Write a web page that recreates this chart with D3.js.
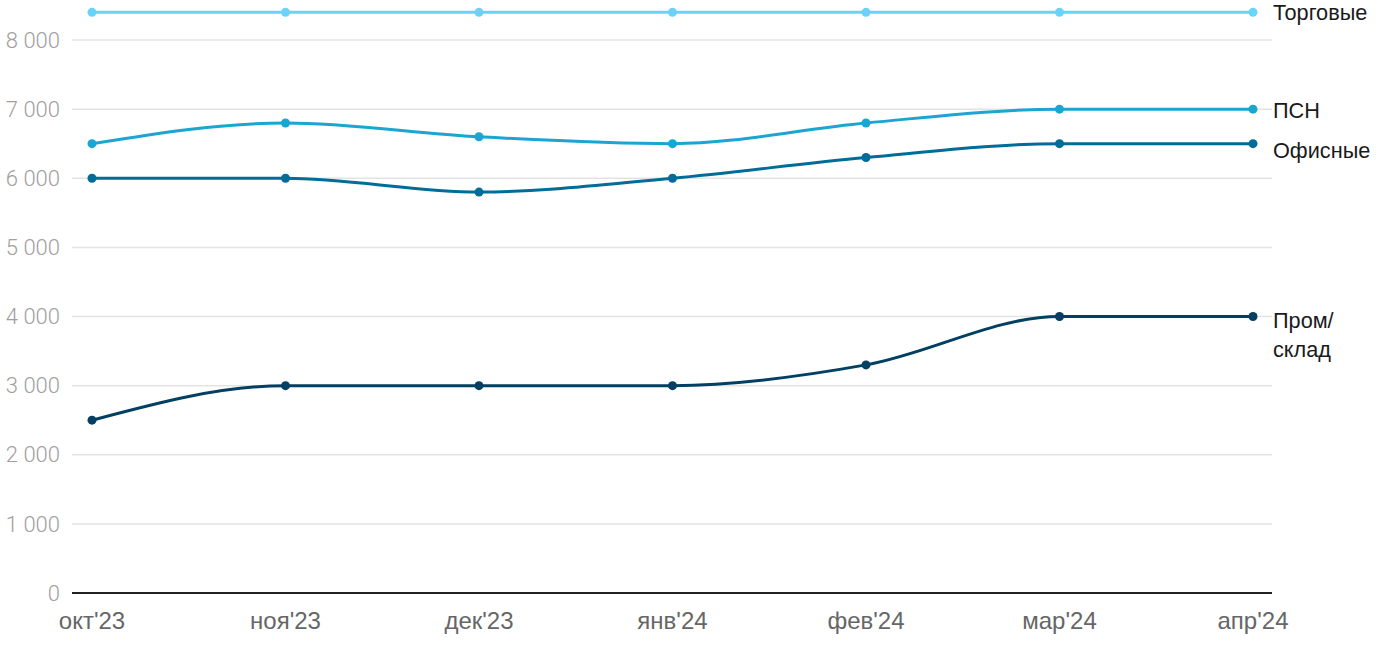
<!DOCTYPE html>
<html><head><meta charset="utf-8">
<script src="https://cdn.jsdelivr.net/npm/d3@7"></script>
<style>body{margin:0;background:#fff;}</style>
</head><body><svg id="c" width="1400" height="650"></svg>
<script>
const categories = ["окт'23","ноя'23","дек'23","янв'24","фев'24","мар'24","апр'24"];
const seriesNames = ["Торговые","ПСН","Офисные","Пром/склад"];
const torgovye = [8400,8400,8400,8400,8400,8400,8400];
const psn = [6500,6800,6600,6500,6800,7000,7000];
const ofisnye = [6000,6000,5800,6000,6300,6500,6500];
const prom = [2500,3000,3000,3000,3300,4000,4000];
const yTicks = [0,1000,2000,3000,4000,5000,6000,7000,8000];
const colors = ["#66d4fb","#1ba5d1","#006d99","#013f63"];
const labelLines = [["Торговые"],["ПСН"],["Офисные"],["Пром/","склад"]];
const labelNudge = [0,1,7,4];

const svg = d3.select("#c");
const x = d3.scalePoint().domain(categories).range([92,1253]);
const y = d3.scaleLinear().domain([0,8000]).range([593,40]);
const fmt = v => d3.format(",")(v).replace(/,/g," ");

const grid = svg.append("g");
yTicks.forEach(t=>{
  if(t>0) grid.append("line").attr("x1",72).attr("x2",1272).attr("y1",y(t)).attr("y2",y(t)).attr("stroke","#e3e3e3").attr("stroke-width",1.5);
  grid.append("text").attr("x",60).attr("y",y(t)).attr("dy","0.35em").attr("text-anchor","end")
    .attr("font-family","Roboto, sans-serif").attr("font-weight",300)
    .attr("fill","#a0a0a0").attr("font-size",22).text(fmt(t));
});
svg.append("line").attr("x1",72).attr("x2",1272).attr("y1",y(0)).attr("y2",y(0)).attr("stroke","#222").attr("stroke-width",2);
categories.forEach(c=>{
  svg.append("text").attr("x",x(c)).attr("y",629).attr("text-anchor","middle")
    .attr("font-family","'Liberation Sans', Arial, sans-serif")
    .attr("fill","#666").attr("font-size",24).text(c);
});

const data = [torgovye, psn, ofisnye, prom];
const line = d3.line().x((d,i)=>x(categories[i])).y(d=>y(d)).curve(d3.curveMonotoneX);
[3,2,1,0].forEach(k=>{
  const vals = data[k];
  svg.append("path").attr("d",line(vals)).attr("fill","none").attr("stroke",colors[k]).attr("stroke-width",3);
  svg.append("g").selectAll("circle").data(vals).join("circle")
    .attr("cx",(d,i)=>x(categories[i])).attr("cy",d=>y(d)).attr("r",4.5).attr("fill",colors[k]);
  const ly = y(vals[vals.length-1]) + labelNudge[k];
  const t = svg.append("text").attr("x",1273).attr("y",ly).attr("fill","#1a1a1a").attr("font-size",21.7)
    .attr("font-family","'Liberation Sans', Arial, sans-serif");
  labelLines[k].forEach((s,j)=>{
    t.append("tspan").attr("x",1273).attr("dy", j===0 ? "0.35em" : "1.33em").text(s);
  });
});
</script></body></html>
